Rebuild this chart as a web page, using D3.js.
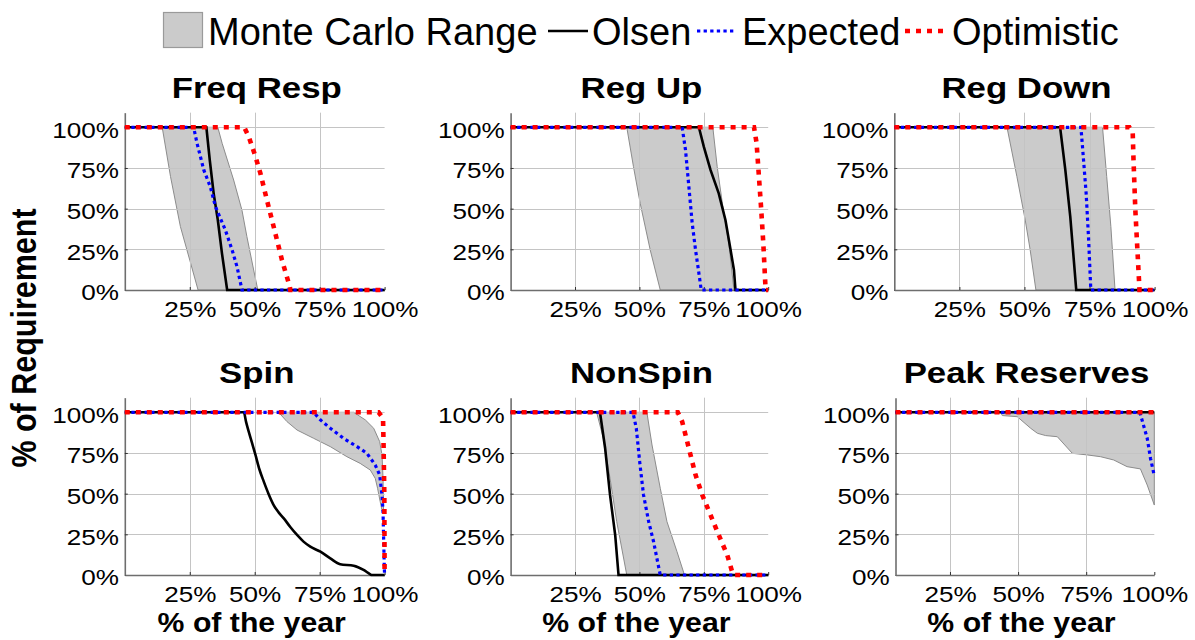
<!DOCTYPE html>
<html><head><meta charset="utf-8">
<script src="https://cdn.jsdelivr.net/npm/d3@7/dist/d3.min.js"></script>
<style>body{margin:0;background:#fff}svg{display:block}text{font-family:"Liberation Sans",Arial,sans-serif}</style>
</head><body><svg id="c" width="1195" height="640"></svg>
<script>
// ---------- DATA ----------
const titles = ["Freq Resp","Reg Up","Reg Down","Spin","NonSpin","Peak Reserves"];
const yTicks = [0, 0.25, 0.5, 0.75, 1];
const xTicks = [0.25, 0.5, 0.75, 1];
const legendLabels = ["Monte Carlo Range","Olsen","Expected","Optimistic"];

// Freq Resp
const frOlsen = [[0,1],[0.314,1],[0.327,0.799],[0.342,0.594],[0.358,0.430],[0.374,0.225],[0.394,0],[1,0]];
const frExpected = [[0,1],[0.265,1],[0.278,0.902],[0.304,0.738],[0.329,0.635],[0.349,0.512],[0.387,0.369],[0.413,0.246],[0.432,0.143],[0.451,0],[1,0]];
const frOptimistic = [[0,1],[0.46,1],[0.477,0.943],[0.503,0.82],[0.522,0.717],[0.547,0.553],[0.573,0.389],[0.605,0.184],[0.635,0.02],[0.637,0],[1,0]];
const frBandMin = [[0.144,1],[0.176,0.697],[0.214,0.39],[0.25,0.184],[0.282,0]];
const frBandMax = [[0.358,1],[0.375,0.9],[0.419,0.676],[0.451,0.49],[0.47,0.328],[0.496,0.123],[0.512,0]];
// Reg Up
const ruOlsen = [[0,1],[0.731,1],[0.75,0.881],[0.776,0.738],[0.808,0.594],[0.834,0.43],[0.854,0.246],[0.867,0.123],[0.873,0],[1,0]];
const ruExpected = [[0,1],[0.666,1],[0.679,0.861],[0.692,0.635],[0.705,0.41],[0.718,0.246],[0.731,0.102],[0.74,0],[1,0]];
const ruOptimistic = [[0,1],[0.945,1],[0.955,0.902],[0.964,0.697],[0.973,0.492],[0.981,0.287],[0.99,0],[1,0]];
const ruBandMin = [[0.451,1],[0.477,0.758],[0.503,0.533],[0.542,0.246],[0.581,0]];
const ruBandMax = [[0.785,1],[0.802,0.758],[0.822,0.533],[0.847,0.287],[0.867,0]];
// Reg Down
const rdOlsen = [[0,1],[0.637,1],[0.657,0.738],[0.676,0.451],[0.699,0],[1,0]];
const rdExpected = [[0,1],[0.717,1],[0.725,0.84],[0.737,0.594],[0.746,0.328],[0.755,0],[1,0]];
const rdOptimistic = [[0,1],[0.903,1],[0.916,0.963],[0.919,0.799],[0.926,0.492],[0.934,0.246],[0.942,0],[1,0]];
const rdBandMin = [[0.433,1],[0.471,0.697],[0.503,0.43],[0.522,0.246],[0.544,0]];
const rdBandMax = [[0.80,1],[0.816,0.697],[0.832,0.39],[0.848,0]];
// Spin
const spOlsen = [[0,1],[0.458,1],[0.467,0.94],[0.477,0.881],[0.49,0.81],[0.503,0.738],[0.518,0.65],[0.535,0.574],[0.553,0.5],[0.573,0.43],[0.592,0.385],[0.612,0.348],[0.637,0.295],[0.663,0.246],[0.688,0.205],[0.714,0.174],[0.753,0.143],[0.791,0.102],[0.829,0.066],[0.881,0.057],[0.919,0.031],[0.945,0.004],[0.95,0],[1,0]];
const spExpected = [[0,1],[0.727,1],[0.753,0.953],[0.791,0.902],[0.842,0.84],[0.894,0.789],[0.932,0.748],[0.964,0.676],[0.981,0.615],[0.99,0.492],[0.994,0.389],[0.996,0.246],[0.999,0.04],[1,0]];
const spOptimistic = [[0,1],[0.977,1],[0.994,0.963],[0.996,0.8],[0.999,0.49],[1,0]];
const spBandMin = [[0.592,1],[0.624,0.943],[0.663,0.891],[0.727,0.84],[0.791,0.789],[0.855,0.727],[0.906,0.686],[0.945,0.645],[0.964,0.594],[0.973,0.533],[0.983,0.451],[0.991,0.389]];
const spBandMax = [[0.881,1],[0.926,0.953],[0.958,0.902],[0.981,0.82],[0.99,0.738],[0.994,0.594],[0.996,0.389]];
// NonSpin
const nsOlsen = [[0,1],[0.347,1],[0.367,0.779],[0.386,0.492],[0.406,0.246],[0.419,0],[1,0]];
const nsExpected = [[0,1],[0.475,1],[0.488,0.902],[0.501,0.697],[0.516,0.492],[0.536,0.328],[0.555,0.205],[0.568,0.102],[0.581,0],[1,0]];
const nsOptimistic = [[0,1],[0.649,1],[0.666,0.943],[0.692,0.779],[0.718,0.615],[0.744,0.492],[0.776,0.369],[0.808,0.246],[0.841,0.123],[0.86,0.02],[0.867,0],[1,0]];
const nsBandMin = [[0.334,1],[0.36,0.84],[0.386,0.594],[0.412,0.328],[0.451,0]];
const nsBandMax = [[0.529,1],[0.549,0.799],[0.581,0.533],[0.607,0.328],[0.646,0.143],[0.675,0]];
// Peak Reserves
const pkOlsen = [[0.05,1],[1,1]];
const pkExpected = [[0.05,1],[0.947,1],[0.974,0.84],[0.986,0.717],[0.998,0.625]];
const pkOptimistic = [[0.05,1],[1,1]];
const pkBandMin = [[0.436,1],[0.442,0.98],[0.497,0.973],[0.546,0.902],[0.571,0.871],[0.601,0.857],[0.644,0.85],[0.699,0.748],[0.754,0.738],[0.803,0.727],[0.851,0.707],[0.9,0.666],[0.949,0.652],[0.974,0.553],[1,0.43]];
const pkBandMax = [[0.436,1],[1,1]];

const panels = [
  {olsen: frOlsen, expected: frExpected, optimistic: frOptimistic, bmin: frBandMin, bmax: frBandMax, xmin: 0},
  {olsen: ruOlsen, expected: ruExpected, optimistic: ruOptimistic, bmin: ruBandMin, bmax: ruBandMax, xmin: 0},
  {olsen: rdOlsen, expected: rdExpected, optimistic: rdOptimistic, bmin: rdBandMin, bmax: rdBandMax, xmin: 0},
  {olsen: spOlsen, expected: spExpected, optimistic: spOptimistic, bmin: spBandMin, bmax: spBandMax, xmin: 0},
  {olsen: nsOlsen, expected: nsExpected, optimistic: nsOptimistic, bmin: nsBandMin, bmax: nsBandMax, xmin: 0},
  {olsen: pkOlsen, expected: pkExpected, optimistic: pkOptimistic, bmin: pkBandMin, bmax: pkBandMax, xmin: 0.05}
];

// ---------- LAYOUT ----------
const colL = [124.8, 510.6, 894.3], colR = [384.6, 768.2, 1154.6];
const pkL = 895.5, pkR = 1154.3;
const rowZero = [290, 575], rowFull = [127.3, 412.3];
const YTOP = 1.09;
const SX = 1.16;
const FONT = '"Liberation Sans",Arial,sans-serif';

const svg = d3.select("#c");
const lineGen = (x, y) => d3.line().x(d => x(d[0])).y(d => y(d[1]));
const smoothGen = (x, y) => d3.line().x(d => x(d[0])).y(d => y(d[1])).curve(d3.curveMonotoneX);

panels.forEach((p, i) => {
  const col = i % 3, row = Math.floor(i / 3);
  const x = d3.scaleLinear().domain([p.xmin, 1]).range(i === 5 ? [pkL, pkR] : [colL[col], colR[col]]);
  const h = rowZero[row] - rowFull[row];
  const y = d3.scaleLinear().domain([0, YTOP]).range([rowZero[row], rowZero[row] - YTOP * h]);
  const g = svg.append("g");

  // band
  const poly = p.bmin.concat(p.bmax.slice().reverse());
  g.append("path").attr("d", lineGen(x, y)(poly) + "Z")
    .attr("fill", "#cbcbcb").attr("stroke", "#8c8c8c").attr("stroke-width", 1);

  // grid
  g.selectAll(".gx").data([0.25, 0.5, 0.75]).join("line")
    .attr("x1", d => Math.round(x(d)) + 0.5).attr("x2", d => Math.round(x(d)) + 0.5)
    .attr("y1", y(0)).attr("y2", y(YTOP))
    .attr("stroke", "#c4c4c4").attr("stroke-width", 1);
  g.selectAll(".gy").data([0.25, 0.5, 0.75, 1]).join("line")
    .attr("x1", x(p.xmin)).attr("x2", x(1))
    .attr("y1", d => Math.round(y(d)) + 0.5).attr("y2", d => Math.round(y(d)) + 0.5)
    .attr("stroke", "#c4c4c4").attr("stroke-width", 1);

  // axes
  const ya = g.append("g").attr("transform", `translate(${x(p.xmin)},0)`)
    .call(d3.axisLeft(y).tickValues(yTicks).tickFormat(d3.format(".0%")).tickSizeInner(-3).tickSizeOuter(0).tickPadding(6));
  const xa = g.append("g").attr("transform", `translate(0,${y(0)})`)
    .call(d3.axisBottom(x).tickValues(xTicks).tickFormat(d3.format(".0%")).tickSizeInner(-3).tickSizeOuter(0).tickPadding(11));
  [ya, xa].forEach(a => {
    a.select(".domain").attr("stroke", "#6e6e6e").attr("stroke-width", 1.6);
    a.selectAll(".tick line").attr("stroke", "#333").attr("stroke-width", 1);
    a.selectAll("text").attr("font-family", FONT).attr("font-size", 22.5).attr("fill", "#000");
  });
  ya.selectAll("text").attr("dy", "0.44em").attr("x", -5).attr("transform", `scale(${SX},1)`);
  xa.selectAll("text").attr("transform", `scale(${SX},1)`);

  // lines
  g.append("path").datum(p.olsen).attr("d", (i === 3 ? smoothGen : lineGen)(x, y)).attr("fill", "none")
    .attr("stroke", "#000").attr("stroke-width", 2.6);
  g.append("path").datum(p.expected).attr("d", lineGen(x, y)).attr("fill", "none")
    .attr("stroke", "#0000ff").attr("stroke-width", 3.2).attr("stroke-dasharray", "3.3,3.3");
  g.append("path").datum(p.optimistic).attr("d", lineGen(x, y)).attr("fill", "none")
    .attr("stroke", "#ff0000").attr("stroke-width", 4.6).attr("stroke-dasharray", "5,6");

  // title
  const cx = (colL[col] + colR[col]) / 2 + 2;
  g.append("text").attr("transform", `translate(${cx},${rowFull[row] - 29}) scale(${SX},1)`)
    .attr("text-anchor", "middle").attr("font-size", 30).attr("font-weight", "bold")
    .attr("font-family", FONT).text(titles[i]);
  if (row === 1) {
    g.append("text").attr("transform", `translate(${cx - 5},${631.5}) scale(1.12,1)`)
      .attr("text-anchor", "middle").attr("font-size", 27).attr("font-weight", "bold")
      .attr("font-family", FONT).text("% of the year");
  }
});

// y label
svg.append("text").attr("transform", "translate(36,338) rotate(-90) scale(1,1.16)")
  .attr("text-anchor", "middle").attr("font-size", 30.5).attr("font-weight", "bold")
  .attr("font-family", FONT).text("% of Requirement");

// legend
const lg = svg.append("g");
lg.append("rect").attr("x", 163.5).attr("y", 12.5).attr("width", 39).attr("height", 35)
  .attr("fill", "#cbcbcb").attr("stroke", "#9a9a9a").attr("stroke-width", 1.2);
const lgText = [208, 592, 742, 952];
legendLabels.forEach((t, k) => {
  lg.append("text").attr("x", lgText[k]).attr("y", 44.8).attr("font-size", 38)
    .attr("font-family", FONT).text(t);
});
lg.append("line").attr("x1", 548).attr("x2", 588).attr("y1", 31).attr("y2", 31)
  .attr("stroke", "#000").attr("stroke-width", 2.6);
lg.append("line").attr("x1", 697).attr("x2", 736).attr("y1", 31).attr("y2", 31)
  .attr("stroke", "#0000ff").attr("stroke-width", 3.2).attr("stroke-dasharray", "3.3,3.3");
lg.append("line").attr("x1", 905).attr("x2", 946).attr("y1", 31).attr("y2", 31)
  .attr("stroke", "#ff0000").attr("stroke-width", 4.6).attr("stroke-dasharray", "5,6");
</script></body></html>
